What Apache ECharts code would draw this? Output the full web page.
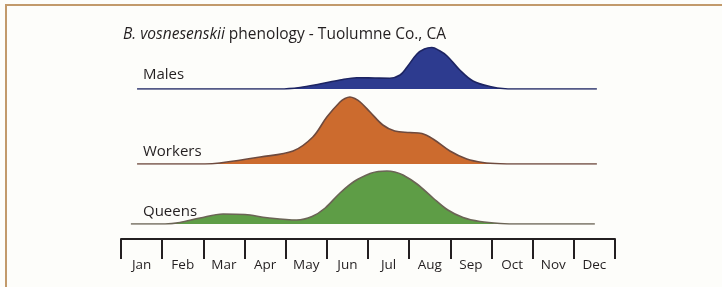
<!DOCTYPE html>
<html>
<head>
<meta charset="utf-8">
<script src="https://cdn.jsdelivr.net/npm/echarts@6/dist/echarts.min.js"></script>
<style>
  html, body { margin: 0; padding: 0; background: #fdfdfa; }
  #chart { width: 722px; height: 287px; }
</style>
</head>
<body>
<div id="chart"></div>
<script>
// month tick labels
var months = ["Jan", "Feb", "Mar", "Apr", "May", "Jun", "Jul", "Aug", "Sep", "Oct", "Nov", "Dec"];

// relative abundance through the year (x in months from Jan 1)
var malesX = [0.39, 3.86, 4.35, 4.83, 5.32, 5.73, 6.17, 6.53, 6.78, 6.95, 7.19, 7.37, 7.55, 7.73, 7.92, 8.23, 8.55, 8.96, 9.33, 9.69, 11.56];
var malesY = [0, 0, 1.5, 5, 9, 11.3, 11, 10.8, 14, 22, 35, 40, 41.5, 38.5, 33, 19, 8, 2.5, 0.3, 0, 0];

var workersX = [0.39, 2.04, 2.40, 3.38, 4.18, 4.66, 5.00, 5.32, 5.44, 5.56, 5.68, 5.81, 6.05, 6.36, 6.65, 7.02, 7.31, 7.58, 7.99, 8.40, 8.79, 9.21, 9.57, 11.56];
var workersY = [0, 0, 1, 7, 13, 27, 47, 62, 65.5, 67, 65.5, 62, 52, 39, 33, 31.5, 30.5, 25, 13, 5, 1.5, 0.2, 0, 0];

var queensX = [0.24, 1.07, 1.43, 1.92, 2.48, 3.01, 3.55, 4.27, 4.64, 4.96, 5.32, 5.68, 6.05, 6.25, 6.46, 6.65, 6.85, 7.19, 7.58, 7.94, 8.31, 8.72, 9.21, 9.69, 11.51];
var queensY = [0, 0, 1.5, 6, 10, 9.5, 6.3, 4, 7.5, 16, 31, 43, 50.5, 52.5, 53, 52, 49, 40, 26, 14, 6.5, 2.5, 0.5, 0, 0];

function pairs(xs, ys) {
  return xs.map(function (x, i) { return [x, ys[i]]; });
}

var myChart = echarts.init(document.getElementById("chart"));

var font = "'Open Sans', 'Noto Sans', sans-serif";
var ridges = [
  { name: "Males", top: 19, x: malesX, y: malesY, fill: "#2d3b8f", edge: "#1d2462", labelY: 74 },
  { name: "Workers", top: 94, x: workersX, y: workersY, fill: "#cc6b2e", edge: "#6e4a3e", labelY: 151 },
  { name: "Queens", top: 154, x: queensX, y: queensY, fill: "#5e9d46", edge: "#6b6455", labelY: 211 }
];

var grids = [], xAxes = [], yAxes = [], series = [], texts = [];
ridges.forEach(function (r, i) {
  grids.push({ left: 121, width: 494, top: r.top, height: 70 });
  xAxes.push({ type: "value", gridIndex: i, min: 0, max: 12, show: false });
  yAxes.push({ type: "value", gridIndex: i, min: 0, max: 70, show: false });
  series.push({
    name: r.name,
    type: "line",
    xAxisIndex: i,
    yAxisIndex: i,
    smooth: 0.35,
    symbol: "none",
    lineStyle: { color: r.edge, width: 1.6 },
    areaStyle: { color: r.fill, opacity: 1 },
    data: pairs(r.x, r.y)
  });
  texts.push({
    type: "text", left: 143, top: r.labelY - 7,
    style: { text: r.name, font: "15px " + font, fill: "#231f20" }
  });
});

// month axis
grids.push({ left: 121, width: 494, top: 238, height: 1 });
xAxes.push({
  type: "category",
  gridIndex: 3,
  data: months,
  boundaryGap: true,
  axisLine: { lineStyle: { color: "#231f20", width: 2 } },
  axisTick: { show: true, interval: 0, length: 20, lineStyle: { color: "#231f20", width: 2 } },
  axisLabel: { interval: 0, margin: 19, fontFamily: font, fontSize: 13.5, color: "#231f20" }
});
yAxes.push({ type: "value", gridIndex: 3, show: false });

var option = {
  backgroundColor: "#fdfdfa",
  animation: false,
  title: {
    left: 118,
    top: 22,
    text: "{i|B. vosnesenskii} phenology - Tuolumne Co., CA",
    textStyle: {
      fontFamily: font,
      fontSize: 15.5,
      fontWeight: "normal",
      color: "#231f20",
      rich: { i: { fontFamily: font, fontSize: 15.5, fontStyle: "italic", color: "#231f20" } }
    }
  },
  graphic: [{
    type: "rect",
    shape: { x: 6, y: 5, width: 800, height: 400 },
    style: { fill: null, stroke: "#c29a6b", lineWidth: 2 }
  }].concat(texts),
  grid: grids,
  xAxis: xAxes,
  yAxis: yAxes,
  series: series
};

myChart.setOption(option);
</script>
</body>
</html>
